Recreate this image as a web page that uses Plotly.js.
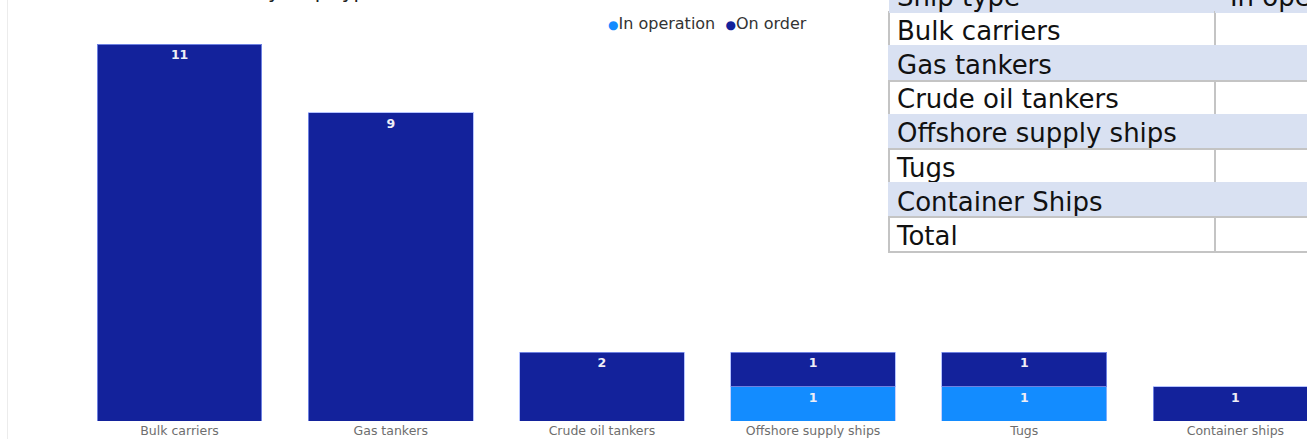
<!DOCTYPE html>
<html>
<head>
<meta charset="utf-8">
<script src="https://cdn.plot.ly/plotly-3.0.1.min.js"></script>
<style>
  html, body { margin: 0; padding: 0; width: 1307px; height: 439px; overflow: hidden; background: #fff; }
  #wrap { position: absolute; left: 0; top: -40px; }
  #edge { position: absolute; left: 7px; top: 0; width: 1px; height: 439px; background: #ececec; }
</style>
</head>
<body>
<div id="wrap"><div id="chart"></div></div>
<div id="edge"></div>
<script>
// ---- data ----
const categories = ['Bulk carriers', 'Gas tankers', 'Crude oil tankers', 'Offshore supply ships', 'Tugs', 'Container ships'];
const seriesNames = ['In operation', 'On order'];
const inOperation = [0, 0, 0, 1, 1, 0];
const onOrder = [11, 9, 2, 1, 1, 1];
const tableHeader = ['Ship type', 'In operation', 'On order'];
const tableRows = ['Bulk carriers', 'Gas tankers', 'Crude oil tankers', 'Offshore supply ships', 'Tugs', 'Container Ships', 'Total'];
const chartTitle = 'Distribution of the fleet by ship type';

// ---- styles ----
const lightBlue = '#138cff';
const darkBlue = '#13229b';
const bandBlue = '#d9e1f2';
const font = 'DejaVu Sans, Verdana, sans-serif';

const labelText = arr => arr.map(v => v ? String(v) : '');

const barCommon = {
  type: 'bar',
  x: categories,
  textposition: 'inside',
  insidetextanchor: 'end',
  textangle: 0,
  insidetextfont: { family: font, size: 12.5, color: '#eeeef6', weight: 'bold' },
  hoverinfo: 'x+y+name',
  showlegend: false
};

const traceOp = Object.assign({}, barCommon, {
  name: seriesNames[0], y: inOperation, text: labelText(inOperation),
  marker: { color: lightBlue, line: { color: 'rgba(170,190,255,0.7)', width: 1 } }
});
const traceOrder = Object.assign({}, barCommon, {
  name: seriesNames[1], y: onOrder, text: labelText(onOrder),
  marker: { color: darkBlue, line: { color: 'rgba(150,170,255,0.7)', width: 1 } }
});

// table columns
const sumOp = inOperation.reduce((a, b) => a + b, 0);
const sumOrder = onOrder.reduce((a, b) => a + b, 0);
const colOp = inOperation.map(String).concat([String(sumOp)]);
const colOrder = onOrder.map(String).concat([String(sumOrder)]);
const rowFill = tableRows.map((r, i) => i % 2 === 0 ? '#ffffff' : bandBlue);
const rowLine = tableRows.map((r, i) => i % 2 === 0 ? '#c4c4c4' : bandBlue);

const tableTrace = {
  type: 'table',
  domain: { x: [815 / 1576, 1515 / 1576], y: [0, (461 - 18) / 451] },
  columnwidth: [326, 187, 187],
  header: {
    values: tableHeader,
    align: ['left', 'center', 'center'],
    height: 34.2,
    fill: { color: bandBlue },
    line: { color: bandBlue, width: 1 },
    font: { family: font, size: 26, color: '#111' }
  },
  cells: {
    values: [tableRows, colOp, colOrder],
    align: ['left', 'right', 'right'],
    height: 34.2,
    fill: { color: [rowFill, rowFill, rowFill] },
    line: { color: [rowLine, rowLine, rowLine], width: 2 },
    font: { family: font, size: 26, color: '#111' }
  }
};

const W = 1700, H = 479;
const plotW = W - 74 - 50;  // 1576
const plotH = H - 10 - 18;  // 451

const legendText =
  '<span style="color:' + lightBlue + ';font-size:12px">●</span>' + seriesNames[0] +
  '&nbsp; <span style="color:' + darkBlue + ';font-size:12px">●</span>' + seriesNames[1];

const layout = {
  width: W, height: H,
  margin: { l: 74, r: 50, t: 10, b: 18, pad: 0 },
  paper_bgcolor: '#fff', plot_bgcolor: '#fff',
  barmode: 'stack',
  bargap: 0.22,
  showlegend: false,
  font: { family: font },
  xaxis: {
    domain: [0, 1267 / plotW],
    type: 'category',
    showgrid: false, zeroline: false, showline: false, ticks: '',
    tickfont: { family: font, size: 12.5, color: '#6e6e6e' },
    fixedrange: true
  },
  yaxis: {
    domain: [0, (461 - 67) / plotH],
    range: [0, 11.5],
    showgrid: false, zeroline: false, showline: false, showticklabels: false, ticks: '',
    fixedrange: true
  },
  annotations: [
    {
      xref: 'paper', yref: 'paper',
      x: (606 - 74) / plotW, xanchor: 'left',
      y: (461 - 63) / plotH, yanchor: 'middle',
      text: legendText, showarrow: false,
      font: { family: font, size: 16, color: '#333' }
    },
    {
      xref: 'paper', yref: 'paper',
      x: (14 - 74) / plotW, xanchor: 'left',
      y: (461 - 45) / plotH, yanchor: 'bottom',
      text: chartTitle, showarrow: false,
      font: { family: font, size: 20, color: '#222' }
    }
  ]
};

Plotly.newPlot('chart', [traceOp, traceOrder, tableTrace], layout, { displayModeBar: false });
</script>
</body>
</html>
